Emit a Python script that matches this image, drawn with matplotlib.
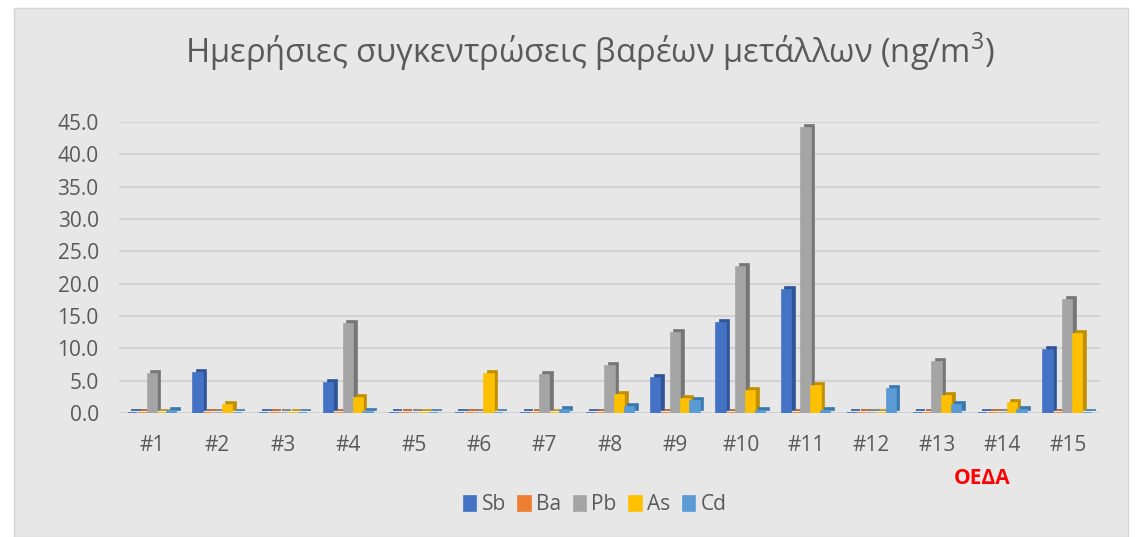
import matplotlib
matplotlib.use("Agg")
import matplotlib.pyplot as plt
import matplotlib.transforms as mtransforms
from matplotlib.patches import Rectangle
import numpy as np

plt.rcParams['font.family'] = ['Open Sans', 'DejaVu Sans']

# data
stations = ['#1', '#2', '#3', '#4', '#5', '#6', '#7', '#8', '#9', '#10',
            '#11', '#12', '#13', '#14', '#15']
sb = [0.0, 6.2, 0.0, 4.6, 0.0, 0.0, 0.0, 0.0, 5.4, 13.9, 19.0, 0.0, 0.0, 0.0, 9.7]
ba = [0.0] * 15
pb = [6.0, 0.0, 0.0, 13.7, 0.0, 0.0, 5.9, 7.3, 12.4, 22.6, 44.0, 0.0, 7.9, 0.0, 17.4]
as_ = [0.0, 1.2, 0.0, 2.3, 0.0, 6.0, 0.0, 2.8, 2.2, 3.4, 4.2, 0.0, 2.6, 1.5, 12.2]
cd = [0.3, 0.0, 0.0, 0.1, 0.0, 0.0, 0.5, 0.9, 1.9, 0.3, 0.3, 3.7, 1.3, 0.4, 0.0]
metals = ['Sb', 'Ba', 'Pb', 'As', 'Cd']
series = [sb, ba, pb, as_, cd]
colors = ['#4472C4', '#ED7D31', '#A5A5A5', '#FFC000', '#5B9BD5']
sides = ['#2F5597', '#B05A1E', '#767676', '#BF9000', '#3A78B0']

fig = plt.figure(figsize=(11.38, 5.37), dpi=100)
fig.patch.set_facecolor('white')
bg = Rectangle((14 / 1138, 0), 1114 / 1138, 529 / 537,
               transform=fig.transFigure, facecolor='#e7e7e7',
               edgecolor='#d4d4d4', linewidth=1, zorder=-5)
fig.add_artist(bg)

ax = fig.add_axes([0.105, 0.231, 0.862, 0.542])
ax.set_facecolor('none')

x = np.arange(len(stations))
w = 0.15
shift = mtransforms.ScaledTranslation(0.035, 0.03, fig.dpi_scale_trans)
for i, (vals, c, s) in enumerate(zip(series, colors, sides)):
    pos = x + (i - 2) * w
    ax.bar(pos, vals, w * 0.95, color=s, edgecolor=s, linewidth=1.2,
           transform=ax.transData + shift, zorder=3 + i)
    ax.bar(pos, vals, w * 0.95, color=c, edgecolor=c, linewidth=1.2,
           label=metals[i], zorder=3 + i)

ax.set_ylim(0, 45)
ax.set_xlim(-0.5, len(stations) - 0.5)
ax.set_yticks(np.arange(0, 46, 5))
ax.set_yticklabels([f'{v:.1f}' for v in np.arange(0, 46, 5)])
ax.set_xticks(x)
ax.set_xticklabels(stations)
ax.yaxis.grid(True, color='#d2d2d2', linewidth=1.5, zorder=1)
ax.set_axisbelow(True)
for sp in ax.spines.values():
    sp.set_visible(False)
ax.tick_params(length=0, labelsize=15, colors='#595959')
ax.tick_params(axis='x', pad=16)
ax.tick_params(axis='y', pad=15)

fig.text(0.518, 0.903,
         'Ημερήσιες συγκεντρώσεις βαρέων μετάλλων (ng/m$^{\\mathregular{3}}$)',
         ha='center', va='center', fontsize=23.6, color='#595959')
fig.text(982 / 1138, 1 - 478 / 537, 'ΟΕΔΑ', ha='center', va='center',
         fontsize=15, fontweight='bold', color='#ff0000')

leg = ax.legend(loc='center', bbox_to_anchor=(595 / 1138, 1 - 505 / 537),
                bbox_transform=fig.transFigure, ncol=5, frameon=False,
                fontsize=15, handlelength=0.6, handleheight=0.75,
                handletextpad=0.25, columnspacing=0.6)
for t in leg.get_texts():
    t.set_color('#595959')

fig.savefig('out.png', dpi=100, facecolor=fig.get_facecolor())
